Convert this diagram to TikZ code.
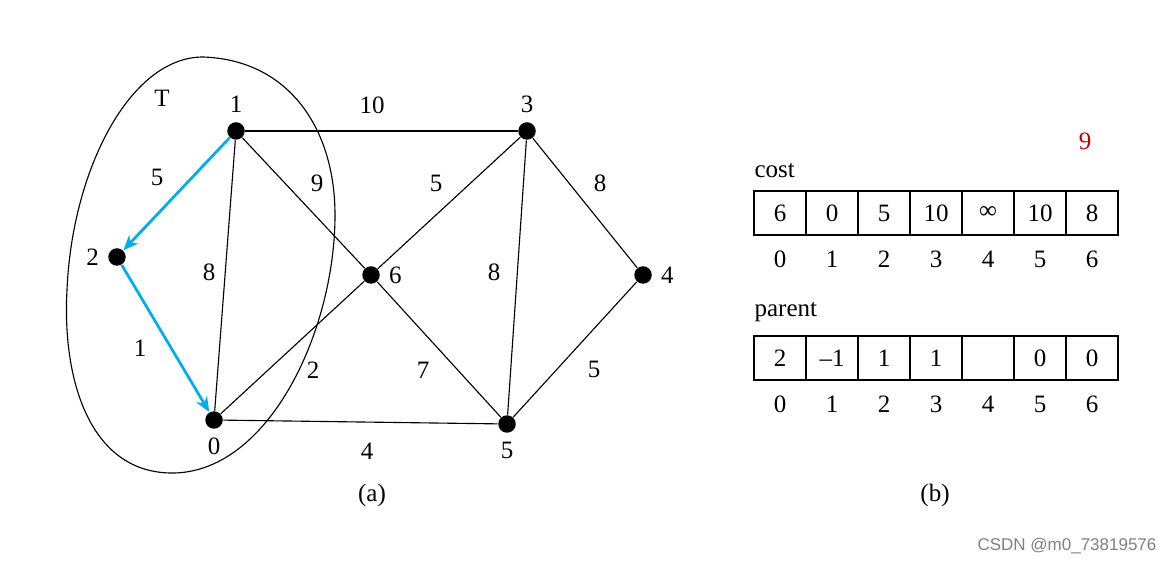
\documentclass[tikz,border=0pt]{standalone}
\usepackage{fontspec}
\setmainfont{Liberation Serif}
\newfontfamily\marksans{Liberation Sans}
\usetikzlibrary{positioning,arrows.meta}
\definecolor{treeblue}{RGB}{0,174,239}
\definecolor{markred}{RGB}{192,0,0}
\tikzset{
  vtx/.style={circle,fill=black,inner sep=0pt,minimum size=7pt},
  cell/.style={draw,minimum width=20.8pt,minimum height=17.6pt,inner sep=0pt},
  tedge/.style={treeblue,line width=1.1pt,-{Stealth[length=6pt,width=5pt]}}
}
\begin{document}
\begin{tikzpicture}[x=0.4pt,y=-0.4pt,line width=0.45pt]
  \useasboundingbox (0,0) rectangle (1170,564);
  \draw (203,57) .. controls (290,60) and (335,130) .. (335,215)
    .. controls (335,330) and (270,470) .. (175,473)
    .. controls (90,475) and (62,380) .. (67,290)
    .. controls (72,170) and (130,57) .. (203,57) -- cycle;
  \node (T) at (162,98) {T};
  \node[vtx,label={above:1}] (v1) at (236,131) {};
  \node[vtx,label={above:3}] (v3) at (527,131) {};
  \node[vtx,label={left:2}] (v2) at (117,257) {};
  \node[vtx,label={right:6}] (v6) at (371,275) {};
  \node[vtx,label={right:4}] (v4) at (643,275) {};
  \node[vtx,label={below:0}] (v0) at (214,420) {};
  \node[vtx,label={below:5}] (v5) at (507,424) {};
  \draw (v1) -- (v3); \draw (v1) -- (v0); \draw (v1) -- (v6);
  \draw (v3) -- (v6); \draw (v3) -- (v5); \draw (v3) -- (v4);
  \draw (v6) -- (v0); \draw (v6) -- (v5); \draw (v0) -- (v5); \draw (v4) -- (v5);
  \draw[tedge] (v1) -- (v2);
  \draw[tedge] (v2) -- (v0);
  \node (w13) at (372,105) {10};
  \node (w12) at (157,177) {5};
  \node (w16) at (317,183) {9};
  \node (w36) at (436,183) {5};
  \node (w34) at (600,183) {8};
  \node (w10) at (209,272) {8};
  \node (w35) at (494,272) {8};
  \node (w20) at (140,348) {1};
  \node (w60) at (313,370) {2};
  \node (w65) at (423,370) {7};
  \node (w45) at (594,369) {5};
  \node (w05) at (367,451) {4};
  \node (capa) at (372,495) {(a)};
  \node[anchor=west,inner sep=0pt] (costlbl) at (754,171) {cost};
  \foreach \v [count=\i from 0] in {6,0,5,10,∞,10,8} {
    \node[cell] (c\i) at (780+52*\i,213) {\v};
    \node[below=2.5pt of c\i] (ci\i) {\i};
  }
  \node[anchor=west,inner sep=0pt] (parlbl) at (754,312) {parent};
  \foreach \v [count=\i from 0] in {2,–1,1,1,{},0,0} {
    \node[cell] (p\i) at (780+52*\i,358) {\v};
    \node[below=2.5pt of p\i] (pi\i) {\i};
  }
  \node (capb) at (935,495) {(b)};
  \node[text=markred] (mark) at (1085,141) {9};
  \node[text=gray,font=\marksans\fontsize{6.8}{8}\selectfont] (wm) at (1067,546) {CSDN @m0\_73819576};
\end{tikzpicture}
\end{document}
